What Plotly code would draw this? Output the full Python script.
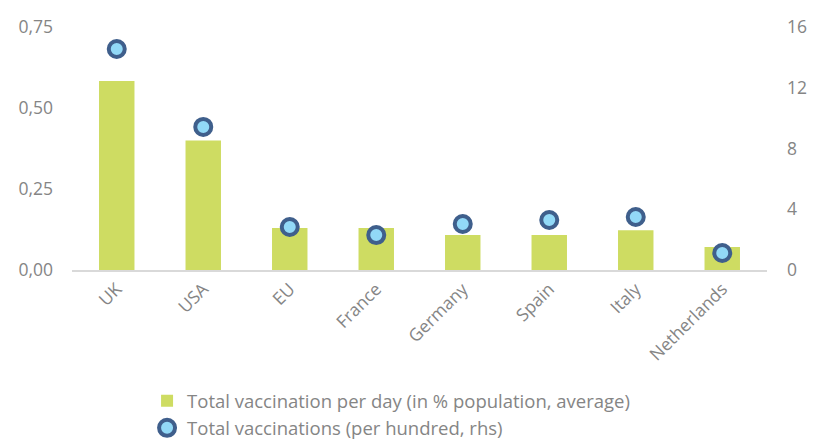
import plotly.graph_objects as go

countries = ["UK", "USA", "EU", "France", "Germany", "Spain", "Italy", "Netherlands"]
per_day = [0.583, 0.40, 0.13, 0.13, 0.108, 0.108, 0.123, 0.071]
per_hundred = [14.55, 9.42, 2.83, 2.3, 3.03, 3.29, 3.49, 1.12]

left_ticks = [0, 0.25, 0.5, 0.75]
right_ticks = [0, 4, 8, 12, 16]

FONT = "Open Sans"
GREY = "#858585"

fig = go.Figure()
fig.add_trace(go.Bar(
    x=countries, y=per_day, name="Total vaccination per day (in % population, average)",
    marker=dict(color="#cedc62", line=dict(width=0)), width=0.41, yaxis="y"))
fig.add_trace(go.Scatter(
    x=countries, y=per_hundred, name="Total vaccinations (per hundred, rhs)",
    mode="markers", yaxis="y2",
    marker=dict(size=16, color="#92d9f7", line=dict(color="#3f5f8c", width=4))))

fig.update_layout(
    width=813, height=441,
    margin=dict(l=72, r=46, t=27, b=171, autoexpand=False),
    paper_bgcolor="white", plot_bgcolor="white",
    separators=", ",
    font=dict(family=FONT, color=GREY, size=17),
    showlegend=True,
    legend=dict(x=0.108, y=-0.462, xanchor="left", yanchor="top",
                font=dict(size=18.5, color=GREY, family=FONT),
                tracegroupgap=0, itemwidth=30),
    xaxis=dict(showgrid=False, showline=True, linecolor="#d9d9d9", linewidth=2,
               tickangle=-45, tickfont=dict(size=17.5, color=GREY), ticks="",
               automargin=False),
    yaxis=dict(range=[0, 0.75], tickvals=left_ticks, tickformat=".2f",
               showgrid=False, zeroline=False, showline=False, automargin=False,
               ticklabelstandoff=18, tickfont=dict(size=17.5, color=GREY)),
    yaxis2=dict(range=[0, 16], tickvals=right_ticks, overlaying="y", side="right",
                showgrid=False, zeroline=False, showline=False, automargin=False,
                ticklabelstandoff=19, tickfont=dict(size=17.5, color=GREY)),
)

fig.write_html("out.html", config={"displayModeBar": False},
               post_script="document.body.style.margin='0';document.body.style.padding='0';")
